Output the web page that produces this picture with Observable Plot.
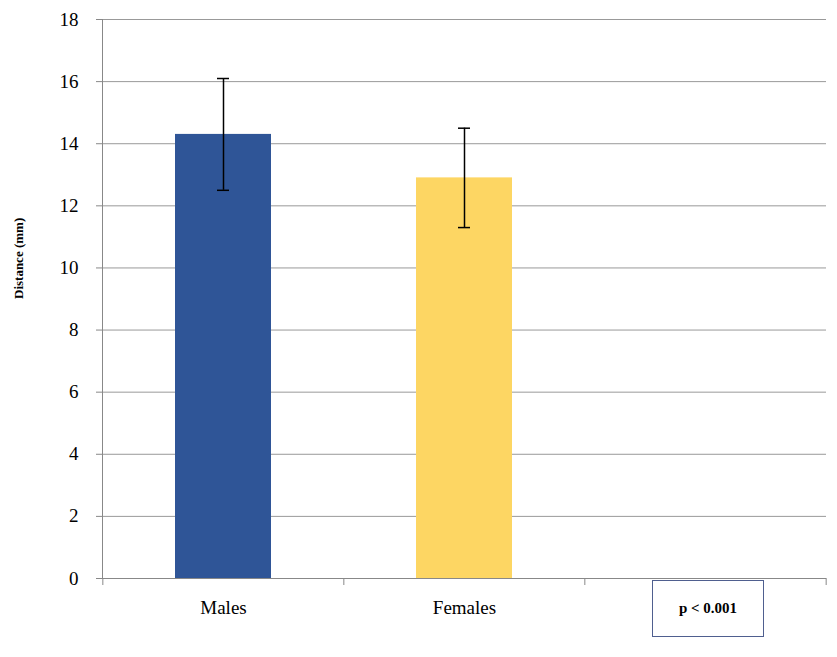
<!DOCTYPE html>
<html><head><meta charset="utf-8">
<script src="https://cdn.jsdelivr.net/npm/d3@7"></script>
<script src="https://cdn.jsdelivr.net/npm/@observablehq/plot@0.6"></script>
<style>
body{margin:0;background:#fff;font-family:"Liberation Serif",serif;}
#wrap{position:relative;width:837px;height:657px;}
#pbox{position:absolute;left:652px;top:580px;width:112px;height:57px;border:1px solid #4f5f8f;box-sizing:border-box;display:flex;align-items:center;justify-content:center;font-weight:bold;font-size:15px;}
</style></head><body>
<div id="wrap"><div id="pbox">p &lt; 0.001</div></div>
<script>
const categories = ["Males","Females",""];
const means = [14.3, 12.9, null];
const lows = [12.5, 11.3, null];
const highs = [16.1, 14.5, null];
const colors = ["#2f5597","#fdd663"];
const yTicks = [0,2,4,6,8,10,12,14,16,18];

const data = categories.slice(0,2).map((c,i)=>({cat:c, v:means[i], lo:lows[i], hi:highs[i], col:colors[i]}));
const step = (837-102-11)/3;

const chart = Plot.plot({
  width:837, height:657,
  marginLeft:102, marginRight:11, marginTop:19, marginBottom:79,
  style:{fontFamily:"Liberation Serif, serif", fontSize:"18px", color:"#000", background:"#fff"},
  x:{domain:categories, paddingInner:0.6, paddingOuter:0.3, label:null},
  y:{domain:[0,18], label:null},
  marks:[
    Plot.gridY(yTicks,{stroke:"#999", strokeOpacity:1}),
    Plot.axisY(yTicks,{tickSize:6, tickPadding:18, stroke:"#888", fontSize:19, label:null}),
    Plot.axisX({tickSize:0, tickPadding:22, fontSize:19, label:null}),
    Plot.barY(data,{x:"cat", y:"v", fill:"col"}),
    Plot.ruleX(data,{x:"cat", y1:"lo", y2:"hi", stroke:"#000", strokeWidth:1.5}),
    Plot.tickY(data,{x:"cat", y:"lo", stroke:"#000", strokeWidth:1.5, insetLeft:42, insetRight:42}),
    Plot.tickY(data,{x:"cat", y:"hi", stroke:"#000", strokeWidth:1.5, insetLeft:42, insetRight:42}),
    Plot.ruleY([0],{stroke:"#888"}),
    Plot.frame({anchor:"left", stroke:"#888"}),
    Plot.ruleX(categories,{x:d=>d, dx:-step/2, y1:0, y2:0, insetBottom:-7, stroke:"#888"}),
    Plot.ruleX([categories[2]],{x:d=>d, dx:step/2, y1:0, y2:0, insetBottom:-7, stroke:"#888"}),
    Plot.text(["Distance (mm)"],{frameAnchor:"left", dx:-84, rotate:-90, fontWeight:"bold", fontSize:13, text:d=>d})
  ]
});
document.getElementById("wrap").prepend(chart);
</script>
</body></html>
